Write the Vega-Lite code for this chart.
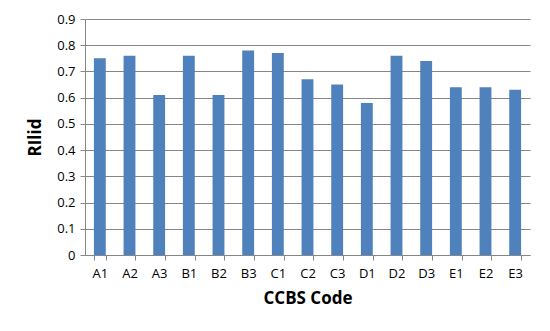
{
  "$schema": "https://vega.github.io/schema/vega-lite/v6.json",
  "width": 445,
  "height": 236,
  "autosize": {"type": "none"},
  "padding": {"left": 85, "top": 19, "right": 20, "bottom": 76},
  "background": "white",
  "data": {"values": [
    {"code": "A1", "value": 0.75},
    {"code": "A2", "value": 0.76},
    {"code": "A3", "value": 0.61},
    {"code": "B1", "value": 0.76},
    {"code": "B2", "value": 0.61},
    {"code": "B3", "value": 0.78},
    {"code": "C1", "value": 0.77},
    {"code": "C2", "value": 0.67},
    {"code": "C3", "value": 0.65},
    {"code": "D1", "value": 0.58},
    {"code": "D2", "value": 0.76},
    {"code": "D3", "value": 0.74},
    {"code": "E1", "value": 0.64},
    {"code": "E2", "value": 0.64},
    {"code": "E3", "value": 0.63}
  ]},
  "mark": {"type": "bar", "color": "#4F81BD"},
  "encoding": {
    "x": {
      "field": "code", "type": "nominal", "sort": null,
      "scale": {"paddingInner": 0.6, "paddingOuter": 0.3},
      "axis": {
        "title": "CCBS Code", "labelAngle": 0, "grid": false,
        "tickBand": "extent", "tickSize": 5, "tickColor": "#868686",
        "domainColor": "#868686", "labelPadding": 7,
        "titlePadding": 10
      }
    },
    "y": {
      "field": "value", "type": "quantitative",
      "scale": {"domain": [0, 0.9]},
      "axis": {
        "title": "RIlid", "values": [0, 0.1, 0.2, 0.3, 0.4, 0.5, 0.6, 0.7, 0.8, 0.9],
        "format": "~g", "tickSize": 5, "tickColor": "#868686",
        "domainColor": "#868686", "gridColor": "#868686", "labelPadding": 5,
        "titlePadding": 12
      }
    }
  },
  "config": {
    "view": {"stroke": null},
    "axis": {
      "labelFont": "Open Sans", "labelFontSize": 13, "labelColor": "#000000",
      "titleFont": "Open Sans", "titleFontSize": 17, "titleFontWeight": "bold", "titleColor": "#000000",
      "gridOpacity": 1, "domainWidth": 1
    }
  }
}
